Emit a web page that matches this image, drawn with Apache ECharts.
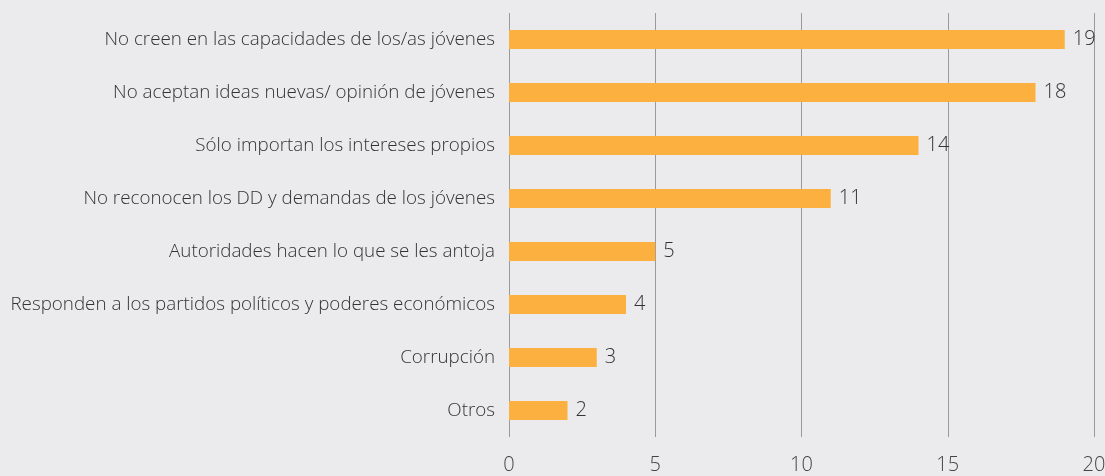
<!DOCTYPE html>
<html>
<head>
<meta charset="utf-8">
<script src="https://cdn.jsdelivr.net/npm/echarts@6/dist/echarts.min.js"></script>
<style>
  html, body { margin: 0; padding: 0; background: #ebebed; }
  #chart { width: 1105px; height: 476px; }
</style>
</head>
<body>
<div id="chart"></div>
<script>
var categories = [
    'No creen en las capacidades de los/as jóvenes',
    'No aceptan ideas nuevas/ opinión de jóvenes',
    'Sólo importan los intereses propios',
    'No reconocen los DD y demandas de los jóvenes',
    'Autoridades hacen lo que se les antoja',
    'Responden a los partidos políticos y poderes económicos',
    'Corrupción',
    'Otros'
];
var values = [19, 18, 14, 11, 5, 4, 3, 2];

var myChart = echarts.init(document.getElementById('chart'));
var option = {
    backgroundColor: '#ebebed',
    textStyle: { fontFamily: 'Open Sans' },
    grid: {
        left: 509,
        top: 13,
        width: 585,
        height: 424,
        outerBoundsMode: 'none'
    },
    xAxis: {
        type: 'value',
        min: 0,
        max: 20,
        interval: 5,
        axisLine: { show: false },
        axisTick: { show: false },
        axisLabel: {
            color: '#444',
            fontSize: 20,
            fontWeight: 300,
            margin: 18
        },
        splitLine: { show: true, lineStyle: { color: '#9a9a9a', width: 1 } }
    },
    yAxis: {
        type: 'category',
        inverse: true,
        data: categories,
        axisLine: { show: false },
        axisTick: { show: false },
        axisLabel: {
            color: '#333',
            fontSize: 18.8,
            fontWeight: 300,
            margin: 14
        }
    },
    series: [
        {
            type: 'bar',
            data: values,
            barWidth: 19,
            itemStyle: { color: '#fbb040' },
            label: {
                show: true,
                position: 'right',
                distance: 8,
                color: '#333',
                fontSize: 20,
                fontWeight: 300
            }
        }
    ]
};
myChart.setOption(option);
window.onresize = myChart.resize;
</script>
</body>
</html>
